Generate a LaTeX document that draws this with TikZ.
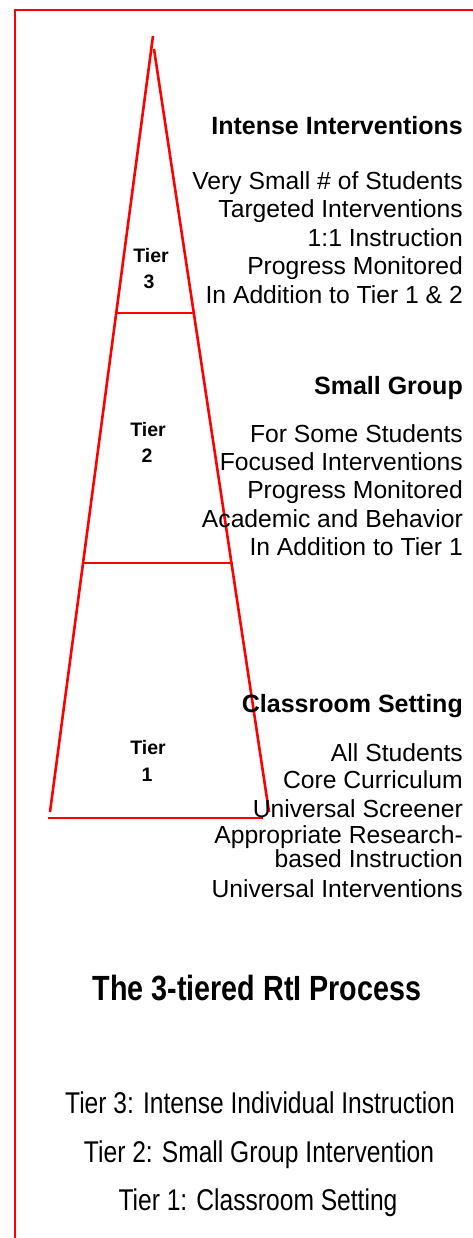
\documentclass[tikz,border=0pt]{standalone}
\usepackage{fontspec}
\setmainfont{Liberation Sans}
\newfontfamily\narrowfont[FakeStretch=0.82]{Liberation Sans}
\tikzset{
  tierline/.style={red, line width=2.6pt},
  frameline/.style={red, line width=1.2pt},
  infohead/.style={anchor=base east, inner sep=0pt, font=\fontsize{25}{28}\selectfont\bfseries},
  info/.style={anchor=base east, inner sep=0pt, font=\fontsize{24.7}{28}\selectfont},
  tierlabel/.style={anchor=base, inner sep=0pt, font=\fontsize{19.5}{24}\selectfont\bfseries},
  listline/.style={anchor=base, inner sep=0pt, font=\fontsize{30}{36}\selectfont\narrowfont}
}
\begin{document}
\begin{tikzpicture}[x=1pt,y=-1pt]
\useasboundingbox (0,0) rectangle (473,1238);
% frame
\draw[frameline] (15,1238) -- (15,10) -- (473,10);

% the triangle
\coordinate (apexL) at (153,36);
\coordinate (apexR) at (154,49);
\coordinate (footL) at (50,812);
\coordinate (footR) at (269,812);
\coordinate (baseL) at (48,818);
\coordinate (baseR) at (263,818);
\coordinate (cut3L) at (116,313);
\coordinate (cut3R) at (193,313);
\coordinate (cut2L) at (83,563);
\coordinate (cut2R) at (231,563);
\draw[tierline] (apexL) -- (footL);
\draw[tierline] (apexR) -- (footR);
\draw[tierline] (baseL) -- (baseR);
\draw[tierline] (cut3L) -- (cut3R);
\draw[tierline] (cut2L) -- (cut2R);

% tier labels
\node[tierlabel] (tier3a) at (151,263) {Tier};
\node[tierlabel] (tier3b) at (149,289) {3};
\node[tierlabel] (tier2a) at (148,436) {Tier};
\node[tierlabel] (tier2b) at (147,462) {2};
\node[tierlabel] (tier1a) at (148,754) {Tier};
\node[tierlabel] (tier1b) at (147,781) {1};

% tier 3 text
\node[infohead] (intense) at (463,135) {Intense Interventions};
\node[info] (intA) at (463,190) {Very Small \# of Students};
\node[info] (intB) at (463,218) {Targeted Interventions};
\node[info] (intC) at (463,247) {1:1 Instruction};
\node[info] (intD) at (463,275) {Progress Monitored};
\node[info] (intE) at (463,303) {In Addition to Tier 1 \& 2};

% tier 2 text
\node[infohead] (small) at (463,394) {Small Group};
\node[info] (smA) at (463,442) {For Some Students};
\node[info] (smB) at (463,470) {Focused Interventions};
\node[info] (smC) at (463,498) {Progress Monitored};
\node[info] (smD) at (463,527) {Academic and Behavior};
\node[info] (smE) at (463,555) {In Addition to Tier 1};

% tier 1 text
\node[infohead] (class) at (463,712) {Classroom Setting};
\node[info] (clA) at (463,761) {All Students};
\node[info] (clB) at (463,788) {Core Curriculum};
\node[info] (clC) at (463,817) {Universal Screener};
\node[info] (clD) at (463,843) {Appropriate Research-};
\node[info] (clE) at (463,867) {based Instruction};
\node[info] (clF) at (463,897) {Universal Interventions};

% title and list
\node[anchor=base, inner sep=0pt, font=\fontsize{35}{40}\selectfont\narrowfont\bfseries] (title) at (257,1000) {The 3-tiered RtI Process};
\node[listline] (list3) at (260,1113) {Tier 3: Intense Individual Instruction};
\node[listline] (list2) at (259,1162) {Tier 2: Small Group Intervention};
\node[listline] (list1) at (258,1210) {Tier 1: Classroom Setting};
\end{tikzpicture}
\end{document}
